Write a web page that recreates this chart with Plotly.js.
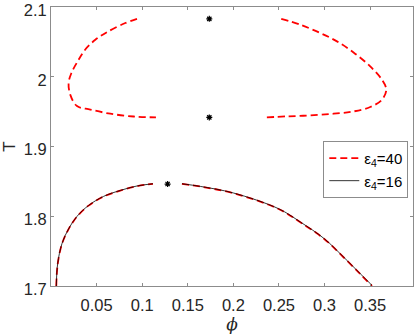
<!DOCTYPE html>
<html>
<head>
<meta charset="utf-8">
<script src="https://cdn.plot.ly/plotly-3.0.1.min.js"></script>
<style>
  html, body { margin: 0; padding: 0; background: #fff; }
  #chart { width: 415px; height: 334px; }
</style>
</head>
<body>
<div id="chart"></div>
<script>
// eps4 = 40, upper branches (left and right)
const upLeftPhi = [0.0943, 0.0815, 0.0614, 0.0486, 0.0376, 0.0292, 0.0223, 0.0193, 0.0212, 0.0285, 0.0431, 0.065, 0.0906, 0.1151];
const upLeftT   = [2.083, 2.077, 2.064, 2.053, 2.039, 2.022, 2.005, 1.991, 1.974, 1.958, 1.953, 1.947, 1.943, 1.9417];
const upRightPhi = [0.2525, 0.2734, 0.2953, 0.3136, 0.3318, 0.3501, 0.3629, 0.3677, 0.3629, 0.3501, 0.3318, 0.3099, 0.2843, 0.2588, 0.235];
const upRightT   = [2.083, 2.0746, 2.0627, 2.0507, 2.0349, 2.0148, 1.9958, 1.9814, 1.967, 1.9566, 1.9503, 1.947, 1.9446, 1.9432, 1.9417];

// lower branch (eps4 = 40 dashed, eps4 = 16 solid lie on top of each other)
const lowLeftPhi40 = [0.0058, 0.0073, 0.012, 0.0193, 0.0285, 0.0412, 0.0577, 0.076, 0.0943, 0.1118];
const lowLeftT40   = [1.700, 1.731, 1.7600, 1.7815, 1.7995, 1.8152, 1.8283, 1.8368, 1.8432, 1.8465];
const lowRightPhi40 = [0.1436, 0.1637, 0.2002, 0.2496, 0.2734, 0.2997, 0.3208, 0.3391, 0.352];
const lowRightT40   = [1.8465, 1.8426, 1.8330, 1.8104, 1.7914, 1.7674, 1.7412, 1.7173, 1.700];

const lowLeftPhi16 = [0.0058, 0.0073, 0.012, 0.0193, 0.0285, 0.0412, 0.0577, 0.076, 0.0943, 0.1118];
const lowLeftT16   = [1.700, 1.732, 1.7606, 1.782, 1.7998, 1.8155, 1.8285, 1.837, 1.8434, 1.8466];
const lowRightPhi16 = [0.1436, 0.1637, 0.2002, 0.2496, 0.2734, 0.2997, 0.3208, 0.3391, 0.352];
const lowRightT16   = [1.8466, 1.8428, 1.8333, 1.8108, 1.7918, 1.7678, 1.7416, 1.7177, 1.701];

// critical points
const starPhi = [0.1736, 0.1736, 0.1279];
const starT   = [2.083, 1.9417, 1.8462];

const xTicks = [0.05, 0.1, 0.15, 0.2, 0.25, 0.3, 0.35];
const xTickText = ['0.05', '0.1', '0.15', '0.2', '0.25', '0.3', '0.35'];
const yTicks = [1.7, 1.8, 1.9, 2, 2.1];
const yTickText = ['1.7', '1.8', '1.9', '2', '2.1'];

// join segments with null so the line breaks between them
function joinSegs(...segs) {
    const out = [];
    segs.forEach((s, i) => {
        if (i > 0) out.push(null);
        out.push(...s);
    });
    return out;
}

const traces = [
    {
        x: joinSegs(upLeftPhi, upRightPhi, lowLeftPhi40, lowRightPhi40),
        y: joinSegs(upLeftT, upRightT, lowLeftT40, lowRightT40),
        mode: 'lines',
        name: 'ε<sub>4</sub>=40',
        line: { color: '#ff0000', width: 1.8, dash: '7px,4px', shape: 'spline', smoothing: 1 },
        connectgaps: false
    },
    {
        x: joinSegs(lowLeftPhi16, lowRightPhi16),
        y: joinSegs(lowLeftT16, lowRightT16),
        mode: 'lines',
        name: 'ε<sub>4</sub>=16',
        line: { color: '#000000', width: 0.8, shape: 'spline', smoothing: 1 },
        connectgaps: false
    },
    {
        x: starPhi,
        y: starT,
        mode: 'markers',
        showlegend: false,
        marker: { symbol: 'asterisk-open', size: 5, color: '#000', line: { color: '#000', width: 1.2 } }
    }
];

const axisCommon = {
    showgrid: false,
    zeroline: false,
    showline: true,
    mirror: 'ticks',
    linecolor: '#8c8c8c',
    linewidth: 1,
    ticks: 'inside',
    ticklen: 3,
    tickcolor: '#8c8c8c',
    ticklabeloverflow: 'allow',
    tickfont: { family: 'Liberation Sans, Arial, sans-serif', size: 16.5, color: '#262626' }
};

const layout = {
    width: 415,
    height: 334,
    margin: { l: 51, r: 2, t: 7, b: 48 },
    paper_bgcolor: '#fff',
    plot_bgcolor: '#fff',
    showlegend: true,
    xaxis: Object.assign({}, axisCommon, {
        range: [0, 0.397],
        tickvals: xTicks,
        ticktext: xTickText,
        ticklabelstandoff: 4,
        title: { text: '<i>ϕ</i>', font: { family: 'DejaVu Serif, serif', size: 17, color: '#262626' } }
    }),
    yaxis: Object.assign({}, axisCommon, {
        range: [1.7, 2.1],
        tickvals: yTicks,
        ticktext: yTickText,
        ticklabelshift: 3,
        title: { text: 'T', font: { family: 'Liberation Sans, Arial, sans-serif', size: 17, color: '#262626' } }
    }),
    legend: {
        x: 0.987, xanchor: 'right',
        y: 0.52, yanchor: 'top',
        bgcolor: '#fff',
        bordercolor: '#8c8c8c',
        borderwidth: 1,
        itemwidth: 30,
        tracegroupgap: 0,
        font: { family: 'Liberation Sans, Arial, sans-serif', size: 15, color: '#000' }
    }
};

Plotly.newPlot('chart', traces, layout, { displayModeBar: false, staticPlot: true });
</script>
</body>
</html>
